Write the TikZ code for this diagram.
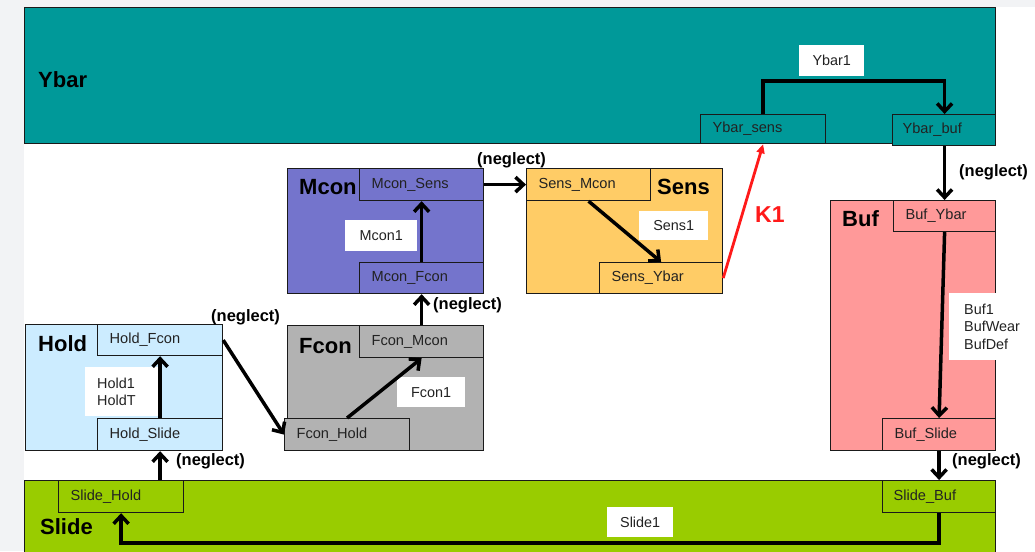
\documentclass[tikz,border=0pt]{standalone}
\usepackage{fontspec}
\setmainfont{Liberation Sans}
\usetikzlibrary{arrows.meta}
\definecolor{bggrey}{HTML}{F2F3F5}
\definecolor{ybarc}{HTML}{009999}
\definecolor{mconc}{HTML}{7474CC}
\definecolor{sensc}{HTML}{FFCC66}
\definecolor{bufc}{HTML}{FF9999}
\definecolor{holdc}{HTML}{CCECFF}
\definecolor{fconc}{HTML}{B2B2B2}
\definecolor{slidec}{HTML}{99CC00}
\definecolor{edge}{HTML}{1A1A1A}
\definecolor{txt}{HTML}{222222}
\definecolor{kred}{HTML}{FF1A1A}
\tikzset{
  area/.style={draw=edge, line width=1.4pt, inner sep=0pt, anchor=north west},
  port/.style={draw=edge, line width=1.2pt, inner ysep=0pt, inner xsep=12pt, anchor=north west,
    align=left, font=\fontsize{14.6}{16}\selectfont, text=txt},
  title/.style={anchor=west, inner sep=0pt, font=\fontsize{22}{24}\selectfont\bfseries, text=black},
  lab/.style={fill=white, inner sep=0pt, anchor=north west, font=\fontsize{14.4}{17}\selectfont, text=txt},
  negl/.style={anchor=west, inner sep=0pt, font=\fontsize{16.5}{18}\selectfont\bfseries, text=black},
  arr/.style={draw=black, line width=3.5pt, -{Straight Barb[length=8pt,width=15pt]}},
  redarr/.style={draw=kred, line width=2.8pt, -{Triangle[length=9pt,width=8pt]}},
}
\begin{document}
\begin{tikzpicture}[x=1pt,y=-1pt]
\useasboundingbox (0,0) rectangle (1035,551);
\fill[bggrey] (0,0) rectangle (1035,551);
\fill[white] (24,7) rectangle (1035,551);
% areas
\begin{scope}
\clip (0,0) rectangle (1035,551);
\node[area, fill=ybarc, minimum width=971pt, minimum height=136pt] (Ybar) at (24,7) {};
\node[area, fill=slidec, minimum width=971pt, minimum height=90pt] (Slide) at (24,480) {};
\end{scope}
\node[area, fill=mconc, minimum width=196pt, minimum height=125pt] (Mcon) at (287,168) {};
\node[area, fill=sensc, minimum width=196pt, minimum height=125pt] (Sens) at (526,168) {};
\node[area, fill=bufc, minimum width=165pt, minimum height=250pt] (Buf) at (830,200) {};
\node[area, fill=holdc, minimum width=197pt, minimum height=126pt] (Hold) at (25,324) {};
\node[area, fill=fconc, minimum width=196pt, minimum height=125pt] (Fcon) at (287,325) {};
% titles
\node[title] (tYbar) at (38,80) {Ybar};
\node[title] (tMcon) at (299,187) {Mcon};
\node[title] (tSens) at (657,187) {Sens};
\node[title] (tBuf) at (842,219) {Buf};
\node[title] (tHold) at (38,344) {Hold};
\node[title] (tFcon) at (299,346) {Fcon};
\node[title] (tSlide) at (40,527) {Slide};
\node[title, text=kred, font=\fontsize{23}{25}\selectfont\bfseries] (K1) at (755,215) {K1};
% ports
\node[port, fill=ybarc, text width=101pt, minimum height=29pt] (Ybar_sens) at (700,114) {Ybar\_sens};
\node[port, fill=ybarc, text width=83pt, minimum height=31pt, inner xsep=10pt] (Ybar_buf) at (892,114) {Ybar\_buf};
\node[port, fill=mconc, text width=100pt, minimum height=32pt] (Mcon_Sens) at (359,168) {Mcon\_Sens};
\node[port, fill=mconc, text width=100pt, minimum height=31pt] (Mcon_Fcon) at (359,262) {Mcon\_Fcon};
\node[port, fill=sensc, text width=100pt, minimum height=32pt] (Sens_Mcon) at (526,168) {Sens\_Mcon};
\node[port, fill=sensc, text width=99pt, minimum height=31pt] (Sens_Ybar) at (599,262) {Sens\_Ybar};
\node[port, fill=bufc, text width=78pt, minimum height=31pt] (Buf_Ybar) at (893,200) {Buf\_Ybar};
\node[port, fill=bufc, text width=89pt, minimum height=32pt] (Buf_Slide) at (882,418) {Buf\_Slide};
\node[port, fill=holdc, text width=101pt, minimum height=31pt] (Hold_Fcon) at (97,324) {Hold\_Fcon};
\node[port, fill=holdc, text width=101pt, minimum height=32pt] (Hold_Slide) at (97,418) {Hold\_Slide};
\node[port, fill=fconc, text width=100pt, minimum height=32pt] (Fcon_Mcon) at (359,325) {Fcon\_Mcon};
\node[port, fill=fconc, text width=101pt, minimum height=32pt] (Fcon_Hold) at (284,418) {Fcon\_Hold};
\node[port, fill=slidec, text width=101pt, minimum height=32pt] (Slide_Hold) at (58,480) {Slide\_Hold};
\node[port, fill=slidec, text width=91pt, minimum height=32pt, inner xsep=11pt] (Slide_Buf) at (882,480) {Slide\_Buf};
% white labels
\node[lab, minimum width=65pt, minimum height=31pt, align=center] (lYbar1) at (799,45) {Ybar1};
\node[lab, minimum width=72pt, minimum height=31pt, align=center] (lMcon1) at (345,220) {Mcon1};
\node[lab, minimum width=69pt, minimum height=29pt, align=center] (lSens1) at (639,211) {Sens1};
\node[lab, minimum width=68pt, minimum height=30pt, align=center] (lFcon1) at (397,377) {Fcon1};
\node[lab, minimum width=66pt, minimum height=30pt, align=center] (lSlide1) at (607,507) {Slide1};
\node[lab, text width=53pt, minimum height=49pt, inner xsep=12pt, align=left] (lHold) at (85,367) {Hold1\\HoldT};
\node[lab, text width=32pt, minimum height=67pt, inner xsep=15pt, inner ysep=0pt, align=left, font=\fontsize{14.4}{17.5}\selectfont] (lBuf) at (949,293) {Buf1\\BufWear\\BufDef};
% neglect labels
\node[negl] (n1) at (477,160) {(neglect)};
\node[negl] (n2) at (433,305) {(neglect)};
\node[negl] (n3) at (211,317) {(neglect)};
\node[negl] (n4) at (176,461) {(neglect)};
\node[negl] (n5) at (959,172) {(neglect)};
\node[negl] (n6) at (952,461) {(neglect)};
% connectors
\coordinate (ytop) at (0,81);
\coordinate (sbot) at (0,543);
\draw[arr] (Ybar_sens.north) |- (ytop -| Buf_Ybar.north) -- (Ybar_buf.north -| Buf_Ybar.north);
\draw[arr] (Ybar_buf.south -| Buf_Ybar.north) -- (Buf_Ybar.north);
\draw[arr] (Buf_Ybar.south) -- (Buf_Slide.north);
\draw[arr] (Buf_Slide.south) -- (Slide_Buf.north);
\draw[arr] (Slide_Buf.south) -- (Slide_Buf.south |- sbot) -| (Slide_Hold.south);
\draw[arr] (Slide_Hold.north -| Hold_Slide.south) -- (Hold_Slide.south);
\draw[arr] (Hold_Slide.north) -- (Hold_Fcon.south);
\draw[arr] (Hold_Fcon.east) -- (Fcon_Hold.west);
\draw[arr] (Fcon_Hold.north) -- (Fcon_Mcon.south);
\draw[arr] (Fcon_Mcon.north) -- (Mcon_Fcon.south);
\draw[arr] (Mcon_Fcon.north) -- (Mcon_Sens.south);
\draw[arr] (Mcon_Sens.east) -- (Sens_Mcon.west);
\draw[arr] (Sens_Mcon.south) -- (Sens_Ybar.north);
\draw[redarr] (Sens_Ybar.east) -- (Ybar_sens.south);
\end{tikzpicture}
\end{document}
